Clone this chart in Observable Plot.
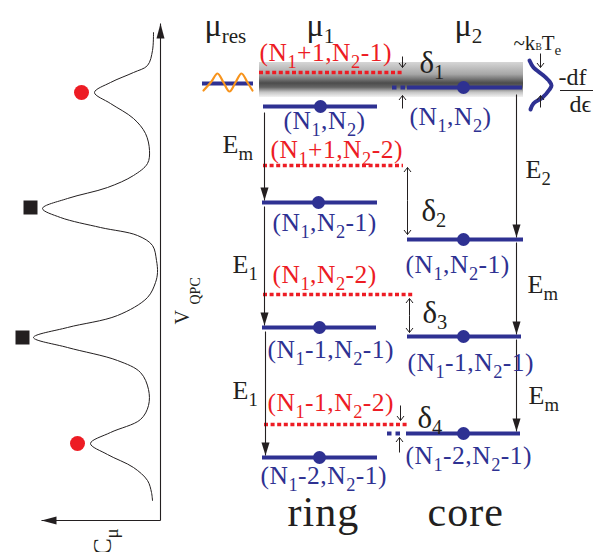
<!DOCTYPE html>
<html><head><meta charset="utf-8">
<script src="https://cdn.jsdelivr.net/npm/d3@7"></script>
<script src="https://cdn.jsdelivr.net/npm/@observablehq/plot@0.6"></script>
<style>body{margin:0;background:#fff} #chart svg{overflow:hidden;display:block}</style>
</head><body><div id="chart"></div>
<script>
const BLUE = "#2E3192", RED = "#ED1C24", ORANGE = "#F7941D", INK = "#231F20";
const SERIF = "Liberation Serif, DejaVu Serif, serif";

// ---- left panel: C_mu trace versus V_QPC ----
const cmuTrace = [[153,32],[152,50],[147,65],[133,72],[110,82],[94,92],[110,103],[133,118],[145,133],[149,150],[147,163],[133,175],[107,187],[67,198],[42,208],[60,217],[100,227],[137,235],[152,245],[156,260],[157,272],[155,282],[147,297],[117,315],[67,327],[33,337],[67,347],[117,360],[140,372],[148,389],[148,405],[140,419],[110,432],[90,443],[107,454],[133,467],[147,480],[151,492],[152,500]];
const peakCircles = [[81,92],[77,443]];
const peakSquares = [[30,207],[22,337]];

// ---- right panel: energy levels ----
const solidLevels = [
  {x1:202,x2:253,y:83},
  {x1:263,x2:377,y:106},{x1:407,x2:522,y:87},
  {x1:262,x2:377,y:202},{x1:407,x2:523,y:239},
  {x1:262,x2:376,y:327},{x1:407,x2:521,y:336},
  {x1:262,x2:377,y:457},{x1:406,x2:520,y:433}
];
const dottedBlue = [{x1:392,x2:406,y:87},{x1:387,x2:402,y:433}];
const dottedRed = [{x1:259,x2:403,y:72},{x1:263,x2:403,y:165},{x1:263,x2:413,y:294},{x1:264,x2:408,y:424}];
const occupied = [[320,106],[463,87],[318,202],[463,239],[319,327],[463,336],[319,457],[463,433]];
const thermalBand = [{x1:259,x2:523,y1:62,y2:97}];
const bandStops = [[0,"#d6d6d6"],[0.35,"#a6a6a6"],[0.6,"#4c4c4c"],[0.72,"#646464"],[0.86,"#c4c4c4"],[1,"#f2f2f2"]];
const reservoirWave = [[203,90],[211,81],[217,73],[223,82],[229,91],[235,82],[241,73],[247,82],[252,90]];
const fermiDeriv = [[529,60],[533,67],[543,75],[549,81],[551,85],[549,89],[542,97],[533,103],[530,109]];
const fractionBar = [{x1:560,x2:593,y:90}];

// arrows with filled heads (transitions and axes)
const bigArrows = [
  {x1:264,y1:112,x2:264,y2:200},{x1:264,y1:206,x2:264,y2:325},{x1:265,y1:331,x2:265,y2:455},
  {x1:516,y1:94,x2:516,y2:237},{x1:516,y1:242,x2:516,y2:334},{x1:516,y1:339,x2:516,y2:431},
  {x1:160,y1:520,x2:160,y2:23},{x1:160,y1:520,x2:41,y2:520}
];
// small arrows with open heads (detunings and kT)
const smallArrows = [
  {x:402,y1:56,y2:67},{x:402,y1:108,y2:95},{x:540,y1:53,y2:67},{x:540,y1:107,y2:95},
  {x:407,y1:200,y2:167},{x:407,y1:200,y2:234},
  {x:409,y1:315,y2:298},{x:409,y1:315,y2:332},
  {x:400,y1:405,y2:420},{x:399,y1:452,y2:437}
];

// ---- texts ----
const headers = [{t:"μ_{res}",x:204,y:35},{t:"μ_1",x:306,y:35},{t:"μ_2",x:454,y:35}];
const redStates = [
  {t:"(N_1+1,N_2-1)",x:259,y:60},{t:"(N_1+1,N_2-2)",x:270,y:157},
  {t:"(N_1,N_2-2)",x:272,y:282},{t:"(N_1-1,N_2-2)",x:267,y:410}
];
const blueStates = [
  {t:"(N_1,N_2)",x:283,y:128},{t:"(N_1,N_2)",x:409,y:124},
  {t:"(N_1,N_2-1)",x:272,y:230},{t:"(N_1,N_2-1)",x:405,y:272},
  {t:"(N_1-1,N_2-1)",x:267,y:357},{t:"(N_1-1,N_2-1)",x:407,y:370},
  {t:"(N_1-2,N_2-1)",x:405,y:463},{t:"(N_1-2,N_2-1)",x:260,y:483}
];
const energyLabels = [
  {t:"E_m",x:222,y:152},{t:"E_2",x:525,y:177},{t:"E_1",x:232,y:272},{t:"E_m",x:527,y:292},
  {t:"E_1",x:232,y:398},{t:"E_m",x:528,y:403}
];
const deltaLabels = [{t:"δ_1",x:419,y:72},{t:"δ_2",x:421,y:220},{t:"δ_3",x:422,y:322},{t:"δ_4",x:417,y:427}];
const thermalLabels = [{t:"~k_[B]T_e",x:513,y:49,s:21},{t:"-df",x:558,y:84,s:24},{t:"dϵ",x:569,y:111,s:24}];
const regionLabels = [{t:"ring",x:287,y:525},{t:"core",x:427,y:525}];
const axisLabels = [
  {t:"V",x:188,y:324,s:20},{t:"QPC",x:199,y:304,s:14},
  {t:"C",x:110,y:555,s:26},{t:"μ",x:117,y:538,s:19}
];

// ---- glyphs for arrowheads ----
function filledHead(dx, dy, L, W) {
  return {draw(ctx) {
    const px = -dy, py = dx;
    ctx.moveTo(0, 0);
    ctx.lineTo(-dx * L + px * W / 2, -dy * L + py * W / 2);
    ctx.lineTo(-dx * L - px * W / 2, -dy * L - py * W / 2);
    ctx.closePath();
  }};
}
function openHead(dy, L, W) {
  return {draw(ctx) {
    ctx.moveTo(-W / 2, -dy * L);
    ctx.lineTo(0, 0);
    ctx.lineTo(W / 2, -dy * L);
  }};
}
const dirOf = a => a.x2 === a.x1 ? (a.y2 > a.y1 ? "down" : "up") : (a.x2 < a.x1 ? "left" : "right");
const headSym = {down: filledHead(0, 1, 13, 8), up: filledHead(0, -1, 15, 8), left: filledHead(-1, 0, 15, 8)};

const txt = (data, o) => Plot.text(data, {x: "x", y: "y", text: "t", textAnchor: "start", lineAnchor: "bottom", fontFamily: SERIF, ...o});

const marks = [
  Plot.rect(thermalBand, {x1: "x1", x2: "x2", y1: "y1", y2: "y2", fill: "url(#bandGrad)"}),
  // left panel trace
  Plot.line(cmuTrace, {x: d => d[0], y: d => d[1], curve: "catmull-rom", stroke: INK, strokeWidth: 1}),
  Plot.dot(peakCircles, {x: d => d[0], y: d => d[1], r: 7.5, fill: RED}),
  Plot.dot(peakSquares, {x: d => d[0], y: d => d[1], r: 7.9, symbol: "square", fill: INK, stroke: "none"}),
  // levels
  Plot.ruleY(dottedRed, {y: "y", x1: "x1", x2: "x2", stroke: RED, strokeWidth: 3.5, strokeDasharray: "4,2.6"}),
  Plot.ruleY(dottedBlue, {y: "y", x1: "x1", x2: "x2", stroke: BLUE, strokeWidth: 4, strokeDasharray: "4.5,4"}),
  Plot.ruleY(solidLevels, {y: "y", x1: "x1", x2: "x2", stroke: BLUE, strokeWidth: 4}),
  Plot.line(reservoirWave, {x: d => d[0], y: d => d[1], curve: "catmull-rom", stroke: ORANGE, strokeWidth: 2.2}),
  Plot.line(fermiDeriv, {x: d => d[0], y: d => d[1], curve: "catmull-rom", stroke: BLUE, strokeWidth: 4}),
  Plot.ruleY(fractionBar, {y: "y", x1: "x1", x2: "x2", stroke: INK, strokeWidth: 1.2}),
  Plot.dot(occupied, {x: d => d[0], y: d => d[1], r: 6.5, fill: BLUE}),
  // arrows
  Plot.link(bigArrows, {x1: "x1", y1: "y1", x2: "x2", y2: "y2", stroke: INK, strokeWidth: 1.1}),
  ...["down", "up", "left"].map(dir => Plot.dot(bigArrows.filter(a => dirOf(a) === dir), {x: "x2", y: "y2", symbol: headSym[dir], fill: INK, stroke: "none"})),
  Plot.link(smallArrows, {x1: "x", x2: "x", y1: "y1", y2: "y2", stroke: INK, strokeWidth: 1}),
  Plot.dot(smallArrows.filter(a => a.y2 > a.y1), {x: "x", y: "y2", symbol: openHead(1, 4.5, 7), fill: "none", stroke: INK, strokeWidth: 1}),
  Plot.dot(smallArrows.filter(a => a.y2 < a.y1), {x: "x", y: "y2", symbol: openHead(-1, 4.5, 7), fill: "none", stroke: INK, strokeWidth: 1}),
  // texts
  txt(headers, {fontSize: 32, fill: INK}),
  txt(redStates, {fontSize: 25.5, fill: RED}),
  txt(blueStates, {fontSize: 25.5, fill: BLUE}),
  txt(energyLabels, {fontSize: 26, fill: INK}),
  txt(deltaLabels, {fontSize: 31, fill: INK}),
  txt(thermalLabels, {fontSize: "s", fill: INK}),
  txt(regionLabels, {fontSize: 42, fill: INK}),
  txt(axisLabels, {fontSize: "s", fill: INK, rotate: -90})
];

const svg = Plot.plot({
  width: 599, height: 552, margin: 0,
  x: {domain: [0, 599], range: [0, 599], axis: null},
  y: {domain: [0, 552], range: [0, 552], axis: null},
  style: {background: "#fff", overflow: "hidden"},
  marks
});
document.getElementById("chart").append(svg);

// gradient for the thermal smearing band
const grad = d3.select(svg).insert("defs", ":first-child").append("linearGradient")
  .attr("id", "bandGrad").attr("x1", 0).attr("y1", 0).attr("x2", 0).attr("y2", 1);
grad.selectAll("stop").data(bandStops).join("stop").attr("offset", d => d[0]).attr("stop-color", d => d[1]);

// subscripts: "_x" or "_{xyz}" (lowered, smaller), "_[x]" (tiny, on baseline)
const NS = "http://www.w3.org/2000/svg";
svg.querySelectorAll("text").forEach(t => {
  const s = t.textContent;
  const F = parseFloat(getComputedStyle(t).fontSize);
  if (/^\(/.test(s)) t.style.letterSpacing = "0.5px";
  if (s === "ring" || s === "core") t.style.letterSpacing = "1px";
  if (!s.includes("_")) return;
  const parts = [];
  const re = /_(?:\{([^}]*)\}|\[([^\]]*)\]|(.))/gu;
  let last = 0, m;
  while ((m = re.exec(s))) {
    if (m.index > last) parts.push({s: s.slice(last, m.index), k: "n"});
    if (m[2] !== undefined) parts.push({s: m[2], k: "tiny"});
    else parts.push({s: m[1] !== undefined ? m[1] : m[3], k: "sub"});
    last = re.lastIndex;
  }
  if (last < s.length) parts.push({s: s.slice(last), k: "n"});
  t.textContent = "";
  const big = /^[μδ]/.test(s);
  const subSize = big ? 0.66 : 0.72, shift = big ? 0.22 : 0.28;
  let off = 0;
  for (const p of parts) {
    const ts = document.createElementNS(NS, "tspan");
    ts.textContent = p.s;
    const target = p.k === "sub" ? shift * F : 0;
    if (p.k === "sub") ts.setAttribute("font-size", (subSize * F) + "px");
    if (p.k === "tiny") ts.setAttribute("font-size", (0.45 * F) + "px");
    if (target !== off) { ts.setAttribute("dy", (target - off) + "px"); off = target; }
    t.appendChild(ts);
  }
});
</script></body></html>
